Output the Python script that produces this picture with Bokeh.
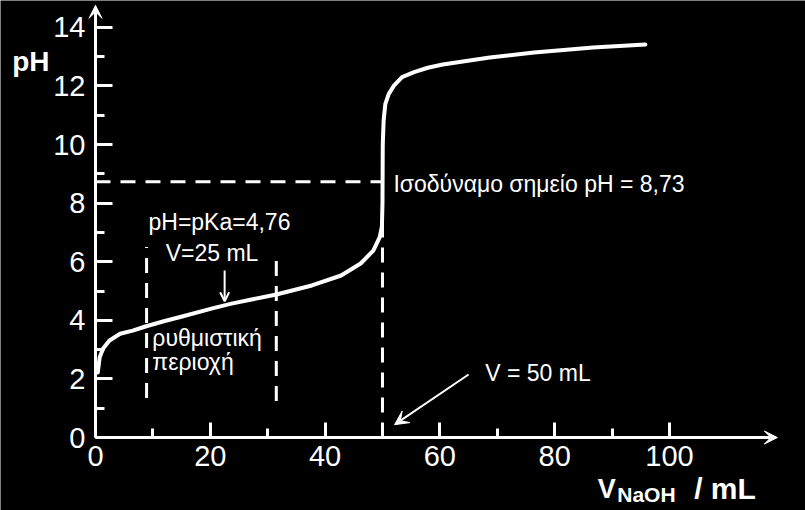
from bokeh.plotting import figure
from bokeh.models import ColumnDataSource, FixedTicker, Arrow, VeeHead, OpenHead, Label, Range1d
from bokeh.embed import file_html
from bokeh.resources import INLINE

# ---- data ----
volume_ml = [0.4, 0.73, 1.33, 2.44, 4.29, 6.5, 8.7, 11.9, 15.1, 20.2, 23.7, 27.2, 31.5, 37.7,
             42.8, 46.2, 48.4, 49.5, 49.9, 50.0, 50.05, 50.2, 50.5, 51.1, 52.0, 53.4, 55.5,
             57.9, 60.5, 68.7, 76.4, 86.7, 95.8]
ph_values = [2.22, 2.74, 3.04, 3.31, 3.54, 3.65, 3.79, 3.97, 4.13, 4.40, 4.57, 4.71, 4.88, 5.19,
             5.53, 5.94, 6.38, 6.83, 7.2, 8.0, 10.0, 10.82, 11.39, 11.73, 12.01, 12.30, 12.47,
             12.62, 12.73, 12.97, 13.14, 13.31, 13.41]

x_major_ticks = [0, 20, 40, 60, 80, 100]
x_minor_ticks = [10, 30, 50, 70, 90]
y_major_ticks = [0, 2, 4, 6, 8, 10, 12, 14]
y_minor_ticks = [1, 3, 5, 7, 9, 11, 13]

eq_volume = 50.0
eq_ph = 8.73
buffer_left_v, buffer_left_ph = 8.9, [1.35, 6.5]
buffer_right_v, buffer_right_ph = 31.5, [1.25, 6.3]
half_eq_arrow_v, half_eq_arrow_ph = 22.5, [5.7, 4.65]
eq_arrow_v, eq_arrow_ph = [65.0, 52.1], [2.15, 0.44]

txt_pka = "pH=pKa=4,76"
txt_half = "V=25 mL"
txt_buffer1 = "ρυθμιστική"
txt_buffer2 = "περιοχή"
txt_eq = "Ισοδύναμο σημείο pH = 8,73"
txt_v50 = "V = 50 mL"
y_title = "pH"
x_title_main, x_title_sub, x_title_unit = "V", "NaOH", "/ mL"

FONT = "Liberation Sans"
W = "white"

p = figure(width=805, height=510, output_backend="svg", toolbar_location=None, title=None,
           x_range=Range1d(-16.55, 123.7), y_range=Range1d(-2.49, 14.915),
           min_border_left=0, min_border_right=0, min_border_top=0, min_border_bottom=0,
           background_fill_color="black", border_fill_color="black", outline_line_color=None)
p.grid.visible = False

for ax, maj, mino, tin in ((p.xaxis[0], x_major_ticks, x_minor_ticks, 15),
                           (p.yaxis[0], y_major_ticks, y_minor_ticks, 17)):
    ax.fixed_location = 0
    ax.ticker = FixedTicker(ticks=maj, minor_ticks=mino)
    ax.axis_line_color = None
    ax.major_tick_in = tin
    ax.major_tick_out = 0
    ax.minor_tick_in = 9
    ax.minor_tick_out = 0
    ax.major_tick_line_color = W
    ax.minor_tick_line_color = W
    ax.major_tick_line_width = 3
    ax.minor_tick_line_width = 3
    ax.major_label_text_color = W
    ax.major_label_text_font = FONT
    ax.major_label_text_font_size = "29px"
p.xaxis.major_label_standoff = 8
p.yaxis.major_label_standoff = 10

# axes with arrow heads
p.add_layout(Arrow(x_start=0, y_start=0, x_end=0, y_end=14.75, line_color=W, line_width=3,
                   end=VeeHead(size=13, fill_color=W, line_color=W, line_width=1)))
p.add_layout(Arrow(x_start=0, y_start=0, x_end=118.8, y_end=0, line_color=W, line_width=3,
                   end=VeeHead(size=13, fill_color=W, line_color=W, line_width=1)))

# dashed guide lines
dash = "15 10"
p.line([0, eq_volume], [eq_ph, eq_ph], line_color=W, line_width=3, line_dash=dash)
p.line([eq_volume, eq_volume], [0, eq_ph], line_color=W, line_width=3, line_dash=dash)
p.line([buffer_left_v, buffer_left_v], buffer_left_ph, line_color=W, line_width=3, line_dash=dash)
p.line([buffer_right_v, buffer_right_v], buffer_right_ph, line_color=W, line_width=3, line_dash=dash)

# titration curve
src = ColumnDataSource(data=dict(v=volume_ml, ph=ph_values))
p.line("v", "ph", source=src, line_color=W, line_width=4, line_join="round", line_cap="round")

# annotation arrows
p.add_layout(Arrow(x_start=half_eq_arrow_v, y_start=half_eq_arrow_ph[0],
                   x_end=half_eq_arrow_v, y_end=half_eq_arrow_ph[1], line_color=W, line_width=2,
                   end=OpenHead(size=9, line_color=W, line_width=2)))
p.add_layout(Arrow(x_start=eq_arrow_v[0], y_start=eq_arrow_ph[0],
                   x_end=eq_arrow_v[1], y_end=eq_arrow_ph[1], line_color=W, line_width=2,
                   end=VeeHead(size=14, fill_color=W, line_color=W, line_width=1)))

def lab(x, y, t, size="23px", align="left", bold=False):
    p.add_layout(Label(x=x, y=y, text=t, text_color=W, text_font=FONT, text_font_size=size,
                       text_align=align, text_baseline="alphabetic",
                       text_font_style="bold" if bold else "normal"))

lab(21.6, 7.36, txt_pka, align="center")
lab(20.3, 6.31, txt_half, align="center")
lab(9.9, 3.41, txt_buffer1)
lab(9.9, 2.59, txt_buffer2)
lab(51.9, 8.66, txt_eq)
lab(67.9, 2.21, txt_v50)

# axis titles
lab(-14.5, 12.83, y_title, size="28px", bold=True)
lab(87.5, -1.75, x_title_main, size="27px", bold=True)
lab(90.9, -1.95, x_title_sub, size="21px", bold=True)
lab(104.3, -1.75, x_title_unit, size="30px", bold=True)

open("out.html", "w").write(file_html(p, INLINE))
